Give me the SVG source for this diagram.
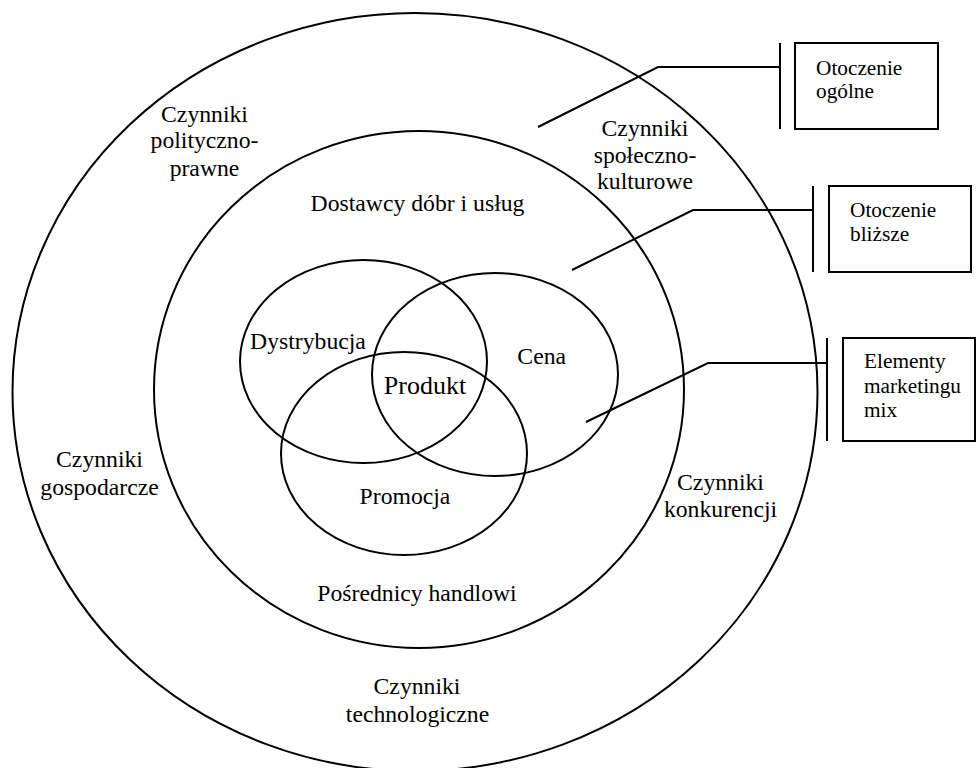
<svg xmlns="http://www.w3.org/2000/svg" width="980" height="768" viewBox="0 0 980 768">
<style>
.s{fill:none;stroke:#000;stroke-width:2}
text{font-family:"Liberation Serif","Times New Roman",serif;fill:#000}
.t{font-size:23.7px;text-anchor:middle}
.p{font-size:26px;text-anchor:middle}
.b{font-size:21.3px}
</style>
<rect width="980" height="768" fill="#fff"/>
<g id="otoczenie-ogolne-ring">
<ellipse class="s" cx="415" cy="392" rx="402.5" ry="379"/>
<text class="t" x="204.5" y="121.7">Czynniki</text>
<text class="t" x="204.5" y="148.3">polityczno-</text>
<text class="t" x="204.5" y="175.7">prawne</text>
<text class="t" x="645" y="136">Czynniki</text>
<text class="t" x="645" y="162.5">społeczno-</text>
<text class="t" x="645" y="189">kulturowe</text>
<text class="t" x="99.5" y="466.7">Czynniki</text>
<text class="t" x="99.5" y="495">gospodarcze</text>
<text class="t" x="720.5" y="490">Czynniki</text>
<text class="t" x="720.5" y="517">konkurencji</text>
<text class="t" x="417" y="693.5">Czynniki</text>
<text class="t" x="417.5" y="722">technologiczne</text>
</g>
<g id="otoczenie-blizsze-ring">
<ellipse class="s" cx="419" cy="389.5" rx="265" ry="258.5"/>
<text class="t" x="417.5" y="210.7">Dostawcy dóbr i usług</text>
<text class="t" x="417" y="601">Pośrednicy handlowi</text>
</g>
<g id="dystrybucja">
<ellipse class="s" cx="363.5" cy="361.5" rx="123.5" ry="101.5"/>
<text class="t" x="308" y="349">Dystrybucja</text>
</g>
<g id="cena">
<ellipse class="s" cx="495" cy="374.5" rx="123" ry="101.5"/>
<text class="t" x="541.7" y="364">Cena</text>
</g>
<g id="promocja">
<ellipse class="s" cx="404" cy="453.5" rx="123" ry="101.5"/>
<text class="t" x="405" y="504">Promocja</text>
</g>
<g id="produkt">
<text class="p" x="425" y="394">Produkt</text>
</g>
<g id="box-otoczenie-ogolne">
<rect class="s" x="795" y="43" width="143" height="86"/>
<text class="b" x="816" y="75">Otoczenie</text>
<text class="b" x="816" y="98.3">ogólne</text>
</g>
<g id="box-otoczenie-blizsze">
<rect class="s" x="829" y="186" width="142" height="86"/>
<text class="b" x="850" y="216.7">Otoczenie</text>
<text class="b" x="850" y="240.7">bliższe</text>
</g>
<g id="box-marketing-mix">
<rect class="s" x="843" y="338" width="132" height="103"/>
<text class="b" x="864" y="368.3">Elementy</text>
<text class="b" x="864" y="393.3">marketingu</text>
<text class="b" x="864" y="417.3">mix</text>
</g>
<g id="connectors">
<line class="s" x1="780" y1="43" x2="780" y2="129"/>
<polyline class="s" points="538,127 658,67 780,67"/>
<line class="s" x1="813" y1="186" x2="813" y2="272"/>
<polyline class="s" points="572,270 693,210 813,210"/>
<line class="s" x1="827" y1="338" x2="827" y2="441"/>
<polyline class="s" points="586,422 708,363 827,363"/>
</g>
</svg>
